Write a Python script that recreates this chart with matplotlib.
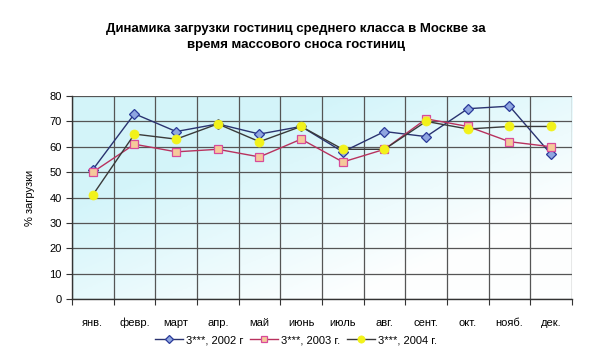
import matplotlib
matplotlib.use("Agg")
import matplotlib.pyplot as plt
import matplotlib.transforms as mtransforms
import numpy as np

months = ["янв.", "февр.", "март", "апр.", "май", "июнь", "июль", "авг.", "сент.", "окт.", "нояб.", "дек."]
s2002 = [51, 73, 66, 69, 65, 68, 58, 66, 64, 75, 76, 57]
s2003 = [50, 61, 58, 59, 56, 63, 54, 59, 71, 68, 62, 60]
s2004 = [41, 65, 63, 69, 62, 68, 59, 59, 70, 67, 68, 68]
labels = ["3***, 2002 г", "3***, 2003 г.", "3***, 2004 г."]
yticks = [0, 10, 20, 30, 40, 50, 60, 70, 80]

plt.rcParams['font.family'] = ['Liberation Sans Narrow', 'Liberation Sans', 'DejaVu Sans']

fig = plt.figure(figsize=(5.92, 3.6), dpi=100)
ax = fig.add_axes([0.1216, 0.1694, 0.8446, 0.5639])

n = len(months)
x = np.arange(n)
ax.set_xlim(-0.5, n - 0.5)
ax.set_ylim(0, 80)

# diagonal gradient background: cyan top-left -> white bottom-right
h, w = 100, 100
yy, xx = np.mgrid[0:1:h*1j, 0:1:w*1j]
t = np.clip((xx + yy) - 0.55, 0, 1) / 1.45
t = np.clip(t * 1.4, 0, 1)
c1 = np.array([0.83, 0.96, 0.98])
c2 = np.array([1.0, 1.0, 1.0])
img = c1[None, None, :] * (1 - t[..., None]) + c2[None, None, :] * t[..., None]
ax.imshow(img, extent=(-0.5, n - 0.5, 0, 80), origin='upper', aspect='auto', zorder=0)

ax.set_xticks(np.arange(-0.5, n, 1))
ax.set_xticklabels([])
ax.tick_params(axis='x', which='major', length=4, direction='out', color='#333333')
trans = mtransforms.blended_transform_factory(ax.transData, ax.transAxes)
for i, m in enumerate(months):
    ax.text(x[i], -0.135, m, transform=trans, ha='center', va='baseline', fontsize=8)

ax.set_yticks(yticks)
ax.set_yticklabels([str(v) for v in yticks], fontsize=8)
ax.tick_params(axis='y', length=4, direction='out', color='#333333')

ax.grid(True, which='major', color='#555555', linewidth=0.9, zorder=1)
for s in ['top', 'right']:
    ax.spines[s].set_visible(False)
for s in ['left', 'bottom']:
    ax.spines[s].set_color('#333333')
    ax.spines[s].set_linewidth(1.0)

ax.plot(x, s2002, color='#2a3370', lw=1.0, marker='D', ms=5, mfc='#8fa6e0', mec='#2a3a9a', mew=0.9, label=labels[0], zorder=3)
ax.plot(x, s2003, color='#b8325e', lw=1.0, marker='s', ms=6, mfc='#f5c99a', mec='#d84b9a', mew=0.9, label=labels[1], zorder=3)
ax.plot(x, s2004, color='#3a3a3a', lw=1.0, marker='o', ms=6.5, mfc='#f2f21a', mec='#f2f21a', mew=0.5, label=labels[2], zorder=4)

ax.set_ylabel("% загрузки", fontsize=8, labelpad=10)

fig.text(0.5, 0.897, "Динамика загрузки гостиниц среднего класса в Москве за\nвремя массового сноса гостиниц",
         ha='center', va='center', fontsize=9.5, fontweight='bold', linespacing=1.5)

fig.legend(loc='center', bbox_to_anchor=(0.5, 0.055), ncol=3, frameon=False, fontsize=8,
           handlelength=2.5, columnspacing=0.6, handletextpad=0.3, markerscale=0.8)

fig.savefig("out.png", dpi=100)
